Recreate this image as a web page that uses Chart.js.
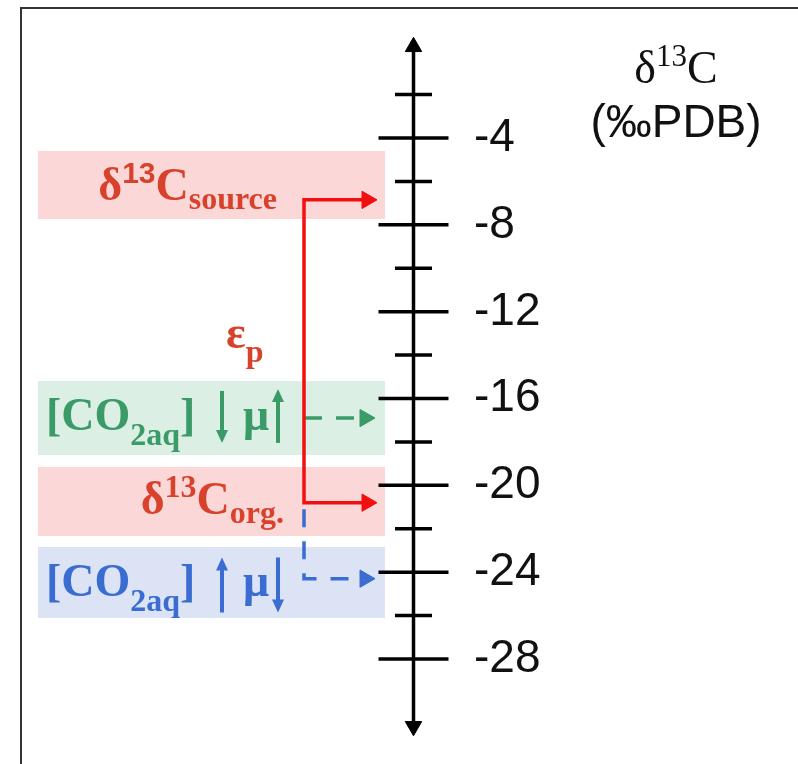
<!DOCTYPE html>
<html>
<head>
<meta charset="utf-8">
<title>d13C scale</title>
<script src="https://cdn.jsdelivr.net/npm/chart.js@4.4.1/dist/chart.umd.min.js"></script>
<style>
  html, body { margin: 0; padding: 0; background: #fff; }
  canvas { display: block; }
</style>
</head>
<body>
<canvas id="chart" width="798" height="764"></canvas>
<script>
// values on the d13C axis (per mil PDB)
const majorTicks = [-4, -8, -12, -16, -20, -24, -28];
const minorTicks = [-2, -6, -10, -14, -18, -22, -26];
const tickLabels = ["-4", "-8", "-12", "-16", "-20", "-24", "-28"];
const axisEnds = [0.2, -31.1];

const sourceValue = -6.85;   // d13C source arrow
const orgValue = -20.8;      // d13C org. arrow
const lowCO2Value = -16.9;   // green dashed arrow
const highCO2Value = -24.3;  // blue dashed arrow
const blueStart = -21.1;

// bands behind the labels: [top, bottom]
const bandRanges = [[-4.6, -7.73], [-15.19, -18.6], [-19.16, -22.33], [-22.84, -26.11]];
const bandColors = ["#fcd7d7", "#dcefe4", "#fcd7d7", "#dbe3f5"];

const Y_MAX = 2.357;
const Y_MIN = -32.837;

const AXIS_X = 413.5;
const PATH_X = 304;
const HEAD_X = 367;
const BAND_X = [38, 385];

const RED = "#f20f0f";
const RED_TEXT = "#d8412b";
const GREEN = "#3a9a68";
const BLUE = "#3a6cd2";

function band(range, color) {
  return {
    data: [
      {x: BAND_X[0], y: range[0]},
      {x: BAND_X[1], y: range[0]},
      {x: BAND_X[1], y: range[1]},
      {x: BAND_X[0], y: range[1]}
    ],
    showLine: true,
    borderWidth: 0,
    pointRadius: 0,
    fill: "shape",
    backgroundColor: color
  };
}

function arrowPath(points, color, dashed) {
  return {
    data: points,
    showLine: true,
    borderColor: color,
    borderWidth: 3.5,
    borderDash: dashed ? [18, 14] : [],
    pointStyle: "triangle",
    pointRadius: points.map(p => (p.head ? 10 : 0)),
    pointRotation: 90,
    pointBackgroundColor: color,
    pointBorderColor: color,
    pointBorderWidth: 1
  };
}

function richWidth(ctx, parts) {
  let w = 0;
  parts.forEach(p => {
    ctx.font = p.font;
    w += ctx.measureText(p.text).width;
  });
  return w;
}

function drawRich(ctx, parts, x, y, align) {
  let cx = x;
  if (align === "right") cx = x - richWidth(ctx, parts);
  if (align === "center") cx = x - richWidth(ctx, parts) / 2;
  parts.forEach(p => {
    ctx.font = p.font;
    ctx.fillText(p.text, cx, y + (p.dy || 0));
    cx += ctx.measureText(p.text).width;
  });
}

function vArrow(ctx, x, yTop, yBot, up, color) {
  ctx.save();
  ctx.strokeStyle = color;
  ctx.fillStyle = color;
  ctx.lineWidth = 4;
  ctx.beginPath();
  if (up) {
    ctx.moveTo(x, yBot);
    ctx.lineTo(x, yTop + 8);
  } else {
    ctx.moveTo(x, yTop);
    ctx.lineTo(x, yBot - 8);
  }
  ctx.stroke();
  ctx.beginPath();
  if (up) {
    ctx.moveTo(x, yTop);
    ctx.lineTo(x - 6, yTop + 13);
    ctx.lineTo(x + 6, yTop + 13);
  } else {
    ctx.moveTo(x, yBot);
    ctx.lineTo(x - 6, yBot - 13);
    ctx.lineTo(x + 6, yBot - 13);
  }
  ctx.closePath();
  ctx.fill();
  ctx.restore();
}

const SERIF_B = "bold 46px 'Liberation Serif'";
const SERIF_B_SMALL = "bold 32px 'Liberation Serif'";

const labelPlugin = {
  id: "labels",
  beforeDraw(chart) {
    const ctx = chart.ctx;
    ctx.save();
    ctx.strokeStyle = "#333";
    ctx.lineWidth = 2;
    ctx.beginPath();
    ctx.moveTo(21, 800);
    ctx.lineTo(21, 8);
    ctx.lineTo(800, 8);
    ctx.stroke();
    ctx.restore();
  },
  afterDraw(chart) {
    const ctx = chart.ctx;
    const y = chart.scales.y;
    ctx.save();
    ctx.textBaseline = "alphabetic";

    // tick labels
    ctx.fillStyle = "#111";
    ctx.font = "46px 'Liberation Sans'";
    ctx.textAlign = "left";
    majorTicks.forEach((v, i) => {
      ctx.fillText(tickLabels[i], 474, y.getPixelForValue(v) + 13);
    });

    // axis title
    drawRich(ctx, [
      {text: "\u03b4", font: "46px 'Liberation Serif'"},
      {text: "13", font: "31px 'Liberation Serif'", dy: -17},
      {text: "C", font: "46px 'Liberation Serif'"}
    ], 676, 83, "center");
    ctx.font = "46px 'Liberation Sans'";
    ctx.textAlign = "center";
    ctx.fillText("(\u2030PDB)", 676, 137);
    ctx.textAlign = "left";

    // red labels
    ctx.fillStyle = RED_TEXT;
    const ySrc = y.getPixelForValue(sourceValue);
    drawRich(ctx, [
      {text: "\u03b4", font: SERIF_B},
      {text: "13", font: "bold 30px 'Liberation Sans'", dy: -17},
      {text: "C", font: SERIF_B},
      {text: "source", font: SERIF_B_SMALL, dy: 9}
    ], 277, ySrc, "right");

    const yOrg = y.getPixelForValue(orgValue);
    drawRich(ctx, [
      {text: "\u03b4", font: SERIF_B},
      {text: "13", font: SERIF_B_SMALL, dy: -17},
      {text: "C", font: SERIF_B},
      {text: "org.", font: SERIF_B_SMALL, dy: 9}
    ], 284, yOrg + 11, "right");

    drawRich(ctx, [
      {text: "\u03b5", font: SERIF_B},
      {text: "p", font: SERIF_B_SMALL, dy: 14}
    ], 226, 348, "left");

    // CO2 labels
    const co2 = [
      {text: "[CO", font: SERIF_B},
      {text: "2aq", font: SERIF_B_SMALL, dy: 15},
      {text: "]", font: SERIF_B}
    ];
    const yGreen = y.getPixelForValue((bandRanges[1][0] + bandRanges[1][1]) / 2);
    ctx.fillStyle = GREEN;
    drawRich(ctx, co2, 46, yGreen + 12, "left");
    ctx.font = SERIF_B;
    ctx.fillText("\u03bc", 243, yGreen + 12);
    vArrow(ctx, 222, yGreen - 27, yGreen + 25, false, GREEN);
    vArrow(ctx, 278, yGreen - 29, yGreen + 25, true, GREEN);

    const yBlue = y.getPixelForValue((bandRanges[3][0] + bandRanges[3][1]) / 2);
    ctx.fillStyle = BLUE;
    drawRich(ctx, co2, 46, yBlue + 14, "left");
    ctx.font = SERIF_B;
    ctx.fillText("\u03bc", 243, yBlue + 14);
    vArrow(ctx, 222, yBlue - 25, yBlue + 30, true, BLUE);
    vArrow(ctx, 278, yBlue - 25, yBlue + 30, false, BLUE);

    ctx.restore();
  }
};

new Chart(document.getElementById("chart"), {
  type: "scatter",
  data: {
    datasets: [
      {
        data: majorTicks.map(v => ({x: AXIS_X, y: v})),
        pointStyle: "line",
        pointRadius: 35,
        pointBorderWidth: 3.5,
        pointBorderColor: "#000"
      },
      {
        data: minorTicks.map(v => ({x: AXIS_X, y: v})),
        pointStyle: "line",
        pointRadius: 18.5,
        pointBorderWidth: 3.5,
        pointBorderColor: "#000"
      },
      {
        data: axisEnds.map(v => ({x: AXIS_X, y: v})),
        showLine: true,
        borderColor: "#000",
        borderWidth: 3.5,
        pointStyle: "triangle",
        pointRadius: 9.5,
        pointRotation: [0, 180],
        pointBackgroundColor: "#000",
        pointBorderColor: "#000",
        pointBorderWidth: 1
      },
      arrowPath([
        {x: HEAD_X, y: sourceValue, head: true},
        {x: PATH_X, y: sourceValue},
        {x: PATH_X, y: orgValue},
        {x: HEAD_X, y: orgValue, head: true}
      ], RED, false),
      arrowPath([
        {x: PATH_X, y: lowCO2Value},
        {x: HEAD_X - 2, y: lowCO2Value, head: true}
      ], GREEN, true),
      arrowPath([
        {x: PATH_X, y: blueStart},
        {x: PATH_X, y: highCO2Value},
        {x: HEAD_X - 2, y: highCO2Value, head: true}
      ], BLUE, true),
      ...bandRanges.map((r, i) => band(r, bandColors[i]))
    ]
  },
  options: {
    responsive: false,
    animation: false,
    events: [],
    layout: {padding: 0, autoPadding: false},
    plugins: {
      legend: {display: false},
      tooltip: {enabled: false}
    },
    scales: {
      x: {type: "linear", min: 0, max: 798, display: false},
      y: {type: "linear", min: Y_MIN, max: Y_MAX, display: false}
    }
  },
  plugins: [labelPlugin]
});
</script>
</body>
</html>
